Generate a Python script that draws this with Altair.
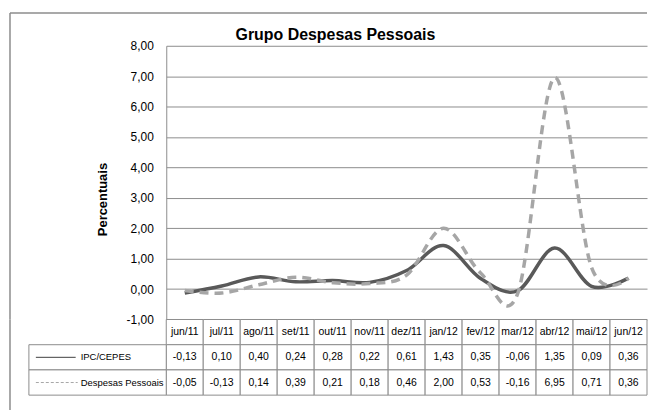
import altair as alt
import pandas as pd

months = ["jun/11", "jul/11", "ago/11", "set/11", "out/11", "nov/11", "dez/11",
          "jan/12", "fev/12", "mar/12", "abr/12", "mai/12", "jun/12"]
ipc = [-0.13, 0.10, 0.40, 0.24, 0.28, 0.22, 0.61, 1.43, 0.35, -0.06, 1.35, 0.09, 0.36]
desp = [-0.05, -0.13, 0.14, 0.39, 0.21, 0.18, 0.46, 2.00, 0.53, -0.16, 6.95, 0.71, 0.36]
series_names = ["IPC/CEPES", "Despesas Pessoais"]
y_ticks = [-1, 0, 1, 2, 3, 4, 5, 6, 7, 8]
title_text = "Grupo Despesas Pessoais"
y_title = "Percentuais"

rows = []
for name, vals in zip(series_names, [ipc, desp]):
    for m, v in zip(months, vals):
        rows.append({"mes": m, "serie": name, "row": name, "valor": v,
                     "txt": f"{v:.2f}".replace(".", ",")})
df = pd.DataFrame(rows)
hdr = pd.DataFrame({"mes": months, "row": ["h"] * len(months), "txt": months})
tab = pd.concat([hdr, df[["mes", "row", "txt"]]], ignore_index=True)
leg = pd.DataFrame({"row": series_names})
one = pd.DataFrame({"a": [0]})
ttl = pd.DataFrame({"t": [title_text]})

W, H, TH = 483, 275, 76
FONT = "Liberation Sans, Arial, sans-serif"
GRID = "#8c8c8c"
C1, C2 = "#595959", "#a6a6a6"

x_pt = alt.X("mes:N", sort=months,
             scale=alt.Scale(type="point", domain=months, padding=0.5), axis=None)
y_ax = alt.Y("valor:Q",
             scale=alt.Scale(domain=[-1, 8], nice=False, zero=False),
             axis=alt.Axis(values=y_ticks,
                           labelExpr="replace(replace(format(datum.value,'.2f'),'.',','),'\u2212','-')",
                           grid=True, gridColor=GRID, gridWidth=1,
                           domainColor=GRID, ticks=False, tickSize=0,
                           labelPadding=13, labelFontSize=12, labelFont=FONT,
                           labelColor="#000", title=y_title, titleFont=FONT,
                           titleFontSize=13, titleFontWeight="bold",
                           titleX=-57, titleY=154, titleColor="#000"))

base = alt.Chart(df)
line1 = base.transform_filter(alt.datum.serie == series_names[0]).mark_line(
    interpolate="cardinal", strokeWidth=3.5, color=C1).encode(x=x_pt, y=y_ax)
line2 = base.transform_filter(alt.datum.serie == series_names[1]).mark_line(
    interpolate="cardinal", strokeWidth=3.5, color=C2, strokeDash=[9, 6]).encode(x=x_pt, y=y_ax)

frame_top = alt.Chart(one).mark_rule(color=GRID, strokeWidth=1.5).encode(
    x=alt.value(-157), x2=alt.value(W), y=alt.value(-33))
frame_left1 = alt.Chart(one).mark_rule(color=GRID, strokeWidth=1.5).encode(
    x=alt.value(-157), y=alt.value(-33), y2=alt.value(H))
title_mark = alt.Chart(ttl).mark_text(font=FONT, fontSize=16, fontWeight="bold",
                                      color="#000", align="center",
                                      baseline="alphabetic").encode(
    x=alt.value(170), y=alt.value(-6), text="t:N")

top = alt.layer(frame_top, frame_left1, title_mark, line1, line2).properties(
    width=W, height=H)

row_dom = ["h"] + series_names
x_band = alt.X("mes:N", sort=months,
               scale=alt.Scale(domain=months, paddingInner=0, paddingOuter=0), axis=None)
y_band = alt.Y("row:N", sort=row_dom,
               scale=alt.Scale(domain=row_dom, paddingInner=0, paddingOuter=0), axis=None)

cells = alt.Chart(tab).mark_rect(fill="white", stroke=GRID, strokeWidth=1).encode(
    x=x_band, y=y_band)
cell_txt = alt.Chart(tab).mark_text(font=FONT, fontSize=10.5, color="#000").encode(
    x=x_band, y=y_band, text="txt:N")
leg_cells = alt.Chart(leg).mark_rect(fill="white", stroke=GRID, strokeWidth=1).encode(
    x=alt.value(-138), x2=alt.value(0), y=y_band)
leg_l1 = alt.Chart(leg).transform_filter(alt.datum.row == series_names[0]).mark_rule(
    color="#404040", strokeWidth=1).encode(x=alt.value(-131), x2=alt.value(-91), y=y_band)
leg_l2 = alt.Chart(leg).transform_filter(alt.datum.row == series_names[1]).mark_rule(
    color="#a6a6a6", strokeWidth=1, strokeDash=[3, 2]).encode(x=alt.value(-131), x2=alt.value(-89), y=y_band)
leg_txt = alt.Chart(leg).mark_text(font=FONT, fontSize=9.5, align="left", color="#000").encode(
    x=alt.value(-86), y=y_band, text="row:N")
frame_left2 = alt.Chart(one).mark_rule(color=GRID, strokeWidth=1.5).encode(
    x=alt.value(-157), y=alt.value(0), y2=alt.value(91))

bottom = alt.layer(frame_left2, cells, cell_txt, leg_cells, leg_l1, leg_l2, leg_txt).properties(
    width=W, height=TH)

chart = alt.vconcat(top, bottom, spacing=0, bounds="flush").properties(
    padding={"left": 0, "top": 2, "right": 0, "bottom": 0},
    background="white",
).configure_view(stroke="transparent")

chart.save("out.html", embed_options={"renderer": "svg", "actions": False})
